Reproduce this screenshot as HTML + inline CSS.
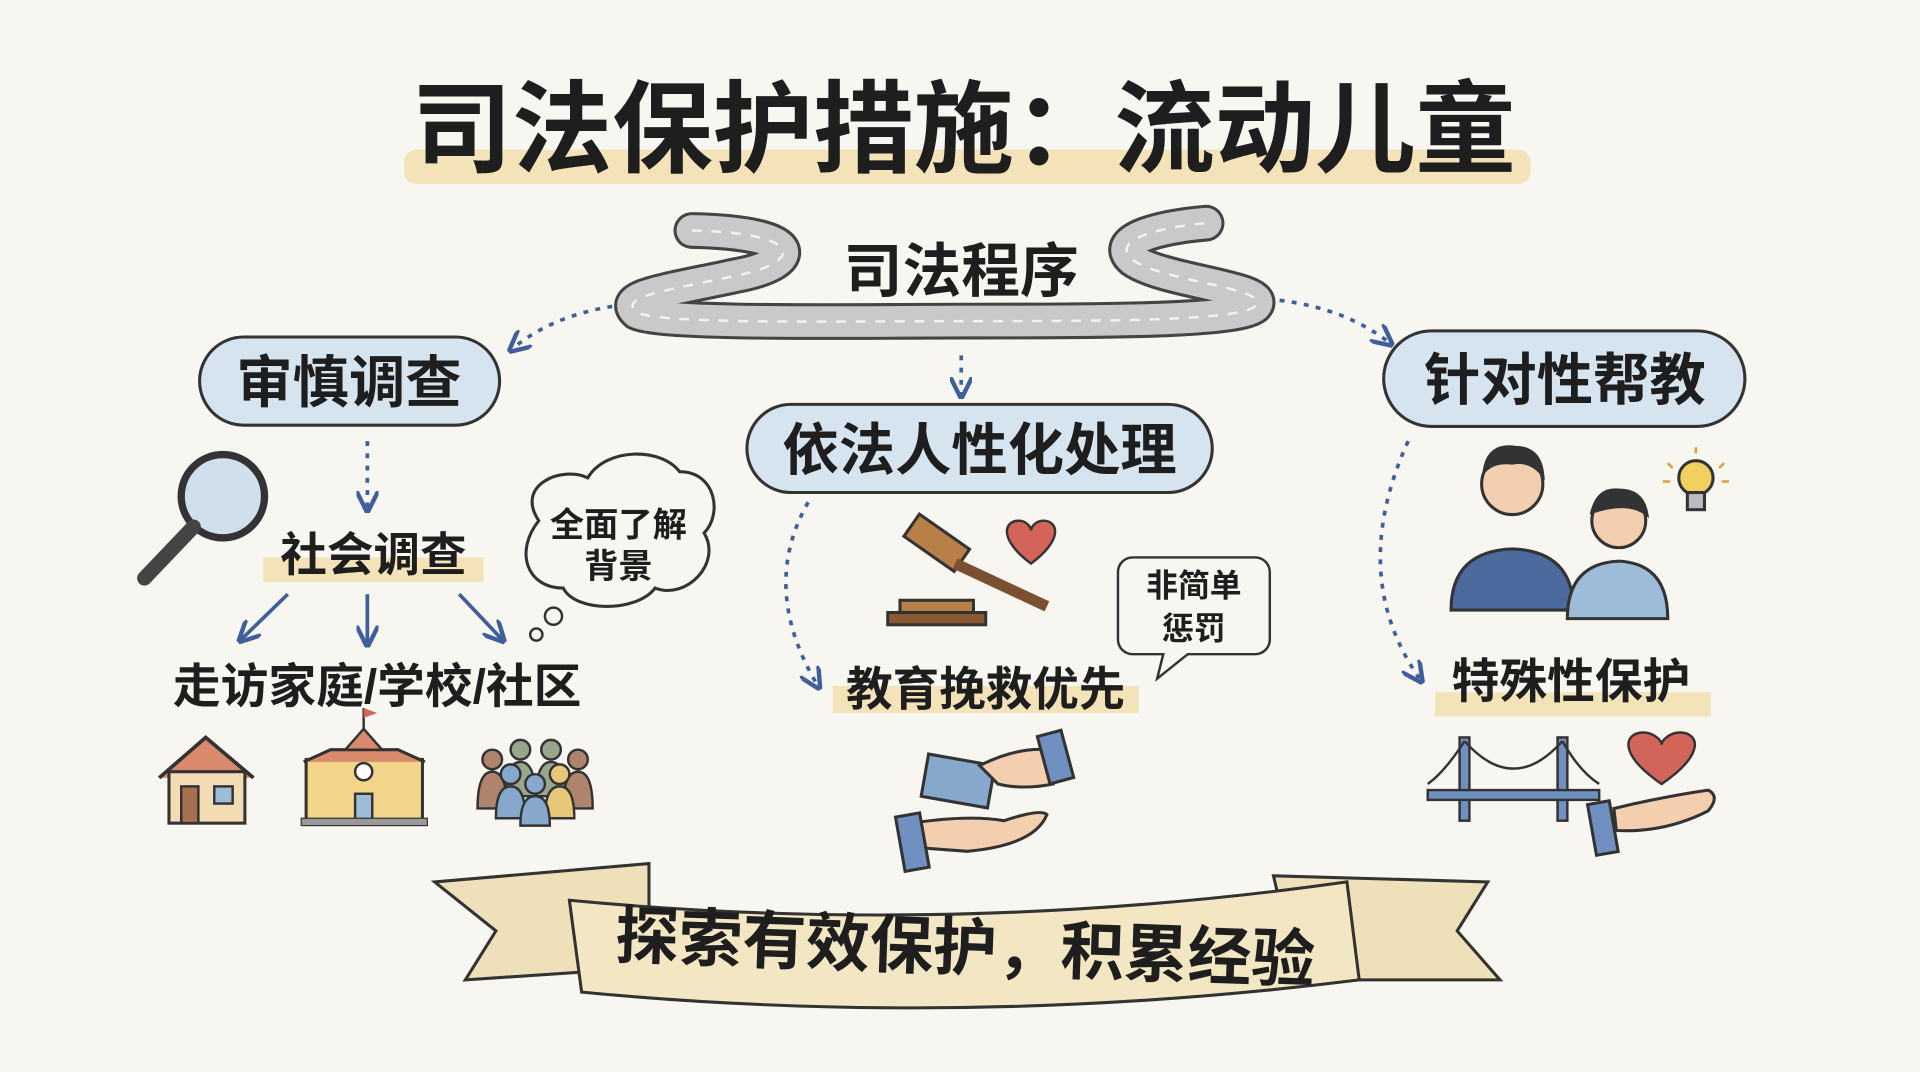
<!DOCTYPE html>
<html><head><meta charset="utf-8"><style>
html,body{margin:0;padding:0;background:#f7f6f0;}
svg{display:block}
text{font-family:"Liberation Sans","Noto Sans CJK SC","WenQuanYi Zen Hei",sans-serif;font-weight:bold;fill:#1e1e1e;text-anchor:middle}
</style></head><body>
<svg width="1920" height="1072" viewBox="0 0 1568 875" xmlns="http://www.w3.org/2000/svg">
<defs>
<marker id="ah" viewBox="0 0 10 10" refX="8" refY="5" markerWidth="6" markerHeight="6" orient="auto"><path d="M0,0 L10,5 L0,10" fill="none" stroke="#3f5f9a" stroke-width="2"/></marker>
</defs>
<rect width="1568" height="875" fill="#f7f6f0"/>
<!-- title -->
<rect x="330" y="122" width="920" height="28" rx="10" fill="#f2deaa" opacity="0.8"/>
<text x="787" y="134" font-size="82" font-weight="500">司法保护措施：流动儿童</text>
<!-- road -->
<path id="rd" d="M565,188 C660,190 655,215 600,225 C540,238 505,242 520,255 C540,265 700,262 790,262 C900,262 1010,262 1025,250 C1040,235 950,230 925,212 C905,195 950,185 985,182" fill="none" stroke="#444" stroke-width="30" stroke-linecap="round"/>
<path d="M565,188 C660,190 655,215 600,225 C540,238 505,242 520,255 C540,265 700,262 790,262 C900,262 1010,262 1025,250 C1040,235 950,230 925,212 C905,195 950,185 985,182" fill="none" stroke="#c9c9c9" stroke-width="25" stroke-linecap="round"/>
<path d="M565,188 C660,190 655,215 600,225 C540,238 505,242 520,255 C540,265 700,262 790,262 C900,262 1010,262 1025,250 C1040,235 950,230 925,212 C905,195 950,185 985,182" fill="none" stroke="#f2f2f2" stroke-width="2" stroke-dasharray="8 8"/>
<text x="785" y="238" font-size="48" font-weight="500">司法程序</text>
<!-- dotted arrows -->
<path d="M500,250 Q450,258 418,285" fill="none" stroke="#3f5f9a" stroke-width="3" stroke-dasharray="4 6" marker-end="url(#ah)"/>
<path d="M785,290 L785,322" fill="none" stroke="#3f5f9a" stroke-width="3" stroke-dasharray="4 6" marker-end="url(#ah)"/>
<path d="M1045,245 Q1100,252 1135,280" fill="none" stroke="#3f5f9a" stroke-width="3" stroke-dasharray="4 6" marker-end="url(#ah)"/>
<!-- bubbles -->
<rect x="163" y="275" width="245" height="72" rx="36" fill="#d6e4ef" stroke="#333" stroke-width="2.5"/>
<text x="285" y="328" font-size="46" font-weight="500">审慎调查</text>
<rect x="610" y="330" width="380" height="72" rx="36" fill="#d6e4ef" stroke="#333" stroke-width="2.5"/>
<text x="800" y="383" font-size="46" font-weight="500">依法人性化处理</text>
<rect x="1130" y="270" width="295" height="78" rx="39" fill="#d6e4ef" stroke="#333" stroke-width="2.5"/>
<text x="1278" y="326" font-size="46" font-weight="500">针对性帮教</text>
<!-- left branch -->
<circle cx="182" cy="405" r="34" fill="#cfe0ec" stroke="#333" stroke-width="6"/>
<line x1="158" y1="430" x2="118" y2="472" stroke="#444" stroke-width="12" stroke-linecap="round"/>
<path d="M300,360 L300,415" stroke="#3f5f9a" stroke-width="3" stroke-dasharray="4 6" marker-end="url(#ah)"/>
<rect x="215" y="455" width="180" height="20" fill="#f2deaa" opacity="0.8"/>
<text x="305" y="466" font-size="38" font-weight="500">社会调查</text>
<path d="M235,485 L197,522" stroke="#3f5f9a" stroke-width="3" marker-end="url(#ah)"/>
<path d="M300,485 L300,525" stroke="#3f5f9a" stroke-width="3" marker-end="url(#ah)"/>
<path d="M375,485 L410,522" stroke="#3f5f9a" stroke-width="3" marker-end="url(#ah)"/>
<path d="M440,425 C420,395 460,380 480,390 C495,365 540,365 555,385 C585,385 590,420 575,435 C590,460 560,490 535,480 C520,500 470,500 460,480 C430,480 420,450 440,425Z" fill="#f7f6f0" stroke="#333" stroke-width="2.5"/>
<circle cx="452" cy="503" r="7" fill="none" stroke="#333" stroke-width="2"/>
<circle cx="438" cy="518" r="5" fill="none" stroke="#333" stroke-width="2"/>
<text x="505" y="438" font-size="28" font-weight="normal">全面了解</text>
<text x="505" y="472" font-size="28" font-weight="normal">背景</text>
<text x="308" y="574" font-size="39" font-weight="normal">走访家庭/学校/社区</text>
<!-- house -->
<path d="M130,635 L168,602 L207,635" fill="#d98a6c" stroke="#333" stroke-width="3"/>
<rect x="138" y="630" width="62" height="42" fill="#f3dcb4" stroke="#333" stroke-width="2.5"/>
<rect x="148" y="642" width="14" height="30" fill="#a8704f" stroke="#333" stroke-width="2"/>
<rect x="175" y="642" width="15" height="14" fill="#9cbcd8" stroke="#333" stroke-width="2"/>
<!-- school -->
<rect x="250" y="620" width="95" height="50" fill="#f2d48a" stroke="#333" stroke-width="2.5"/>
<path d="M248,622 L270,612 L325,612 L347,622" fill="#d98a6c" stroke="#333" stroke-width="2.5"/>
<path d="M282,612 L297,595 L312,612Z" fill="#d98a6c" stroke="#333" stroke-width="2"/>
<circle cx="297" cy="630" r="7" fill="#fff" stroke="#333" stroke-width="2"/>
<rect x="290" y="648" width="14" height="22" fill="#9cbcd8" stroke="#333" stroke-width="2"/>
<rect x="246" y="668" width="103" height="6" fill="#999" stroke="#333"/>
<line x1="297" y1="595" x2="297" y2="578" stroke="#333" stroke-width="2"/><path d="M297,578 L308,582 L297,586Z" fill="#d2645a"/>
<!-- people -->
<g stroke="#333" stroke-width="2">
<circle cx="402" cy="620" r="8" fill="#b0846c"/><path d="M390,660 Q390,630 402,630 Q414,630 414,660Z" fill="#b0846c"/>
<circle cx="472" cy="620" r="8" fill="#b0846c"/><path d="M460,660 Q460,630 472,630 Q484,630 484,660Z" fill="#b0846c"/>
<circle cx="425" cy="612" r="8" fill="#9aa68c"/><path d="M413,650 Q413,622 425,622 Q437,622 437,650Z" fill="#9aa68c"/>
<circle cx="450" cy="612" r="8" fill="#9aa68c"/><path d="M438,650 Q438,622 450,622 Q462,622 462,650Z" fill="#9aa68c"/>
<circle cx="417" cy="632" r="8" fill="#86a8cc"/><path d="M405,668 Q405,642 417,642 Q429,642 429,668Z" fill="#86a8cc"/>
<circle cx="457" cy="632" r="8" fill="#e8c878"/><path d="M445,668 Q445,642 457,642 Q469,642 469,668Z" fill="#e8c878"/>
<circle cx="437" cy="640" r="8" fill="#86a8cc"/><path d="M425,674 Q425,650 437,650 Q449,650 449,674Z" fill="#86a8cc"/>
</g>
<!-- middle branch -->
<path d="M660,410 Q620,480 668,560" fill="none" stroke="#3f5f9a" stroke-width="3" stroke-dasharray="4 6" marker-end="url(#ah)"/>
<g stroke="#333" stroke-width="2.5">
<rect x="740" y="432" width="50" height="22" fill="#b88048" transform="rotate(35 765 443)"/>
<line x1="780" y1="460" x2="855" y2="495" stroke="#7a5030" stroke-width="9"/>
<rect x="735" y="490" width="60" height="12" fill="#b88048"/>
<rect x="725" y="500" width="80" height="10" fill="#8a5a34"/>
</g>
<path d="M842,460 C815,440 820,425 832,425 C838,425 842,430 842,433 C842,430 846,425 852,425 C864,425 869,440 842,460Z" fill="#d2645a" stroke="#333" stroke-width="2"/>
<path d="M925,455 h100 a12,12 0 0 1 12,12 v55 a12,12 0 0 1 -12,12 h-55 l-25,20 l5,-20 h-25 a12,12 0 0 1 -12,-12 v-55 a12,12 0 0 1 12,-12Z" fill="#f7f6f0" stroke="#333" stroke-width="2"/>
<text x="975" y="487" font-size="26" font-weight="normal">非简单</text>
<text x="975" y="522" font-size="26" font-weight="normal">惩罚</text>
<rect x="680" y="560" width="250" height="22" fill="#f2deaa" opacity="0.8"/>
<text x="805" y="576" font-size="38" font-weight="500">教育挽救优先</text>
<!-- book hands -->
<g stroke="#333" stroke-width="2.5">
<rect x="755" y="620" width="55" height="35" fill="#86a8cc" transform="rotate(10 782 637)"/>
<path d="M800,625 Q830,610 855,612 L860,640 Q835,645 815,640Z" fill="#f3cfb0"/>
<rect x="852" y="598" width="20" height="40" fill="#6f90c0" transform="rotate(-15 862 618)"/>
<path d="M745,672 Q790,665 820,670 Q850,660 855,665 Q845,690 790,695 L750,692Z" fill="#f3cfb0"/>
<rect x="735" y="665" width="20" height="45" fill="#6f90c0" transform="rotate(-10 745 687)"/>
</g>
<!-- right branch -->
<path d="M1150,360 Q1100,470 1160,555" fill="none" stroke="#3f5f9a" stroke-width="3" stroke-dasharray="4 6" marker-end="url(#ah)"/>
<g stroke="#333" stroke-width="2.5">
<path d="M1185,498 Q1185,450 1235,448 Q1285,450 1285,498Z" fill="#4d6a9e"/>
<circle cx="1235" cy="395" r="25" fill="#f3cfb0"/>
<path d="M1212,385 Q1215,362 1237,365 Q1258,365 1260,388 Q1250,375 1235,378 Q1220,376 1212,385Z" fill="#333"/>
<path d="M1280,505 Q1280,460 1322,458 Q1362,460 1362,505Z" fill="#9cbcd8"/>
<circle cx="1322" cy="425" r="22" fill="#f3cfb0"/>
<path d="M1300,418 Q1305,398 1322,400 Q1342,400 1345,420 Q1330,408 1300,418Z" fill="#333"/>
<circle cx="1385" cy="390" r="14" fill="#f2d060"/>
<rect x="1378" y="402" width="14" height="14" fill="#bbb"/>
</g>
<g stroke="#e0a030" stroke-width="2"><line x1="1385" y1="365" x2="1385" y2="370"/><line x1="1362" y1="378" x2="1366" y2="382"/><line x1="1408" y1="378" x2="1404" y2="382"/><line x1="1358" y1="393" x2="1364" y2="393"/><line x1="1412" y1="393" x2="1406" y2="393"/></g>
<rect x="1172" y="565" width="225" height="20" fill="#f2deaa" opacity="0.8"/>
<text x="1283" y="570" font-size="39" font-weight="500">特殊性保护</text>
<!-- bridge -->
<g stroke="#333" stroke-width="2">
<rect x="1192" y="602" width="8" height="68" fill="#6f90c0"/>
<rect x="1272" y="602" width="8" height="68" fill="#6f90c0"/>
<path d="M1196,605 Q1236,650 1276,605" fill="none"/>
<path d="M1166,640 Q1180,630 1196,605 M1276,605 Q1290,630 1306,640" fill="none"/>
<rect x="1166" y="645" width="140" height="8" fill="#6f90c0"/>
</g>
<path d="M1357,640 C1320,615 1327,598 1342,598 C1350,598 1357,604 1357,608 C1357,604 1364,598 1372,598 C1387,598 1394,615 1357,640Z" fill="#d2645a" stroke="#333" stroke-width="2"/>
<path d="M1318,660 Q1360,650 1395,645 Q1405,650 1395,662 Q1360,680 1320,678Z" fill="#f3cfb0" stroke="#333" stroke-width="2.5"/>
<rect x="1300" y="655" width="18" height="42" fill="#6f90c0" stroke="#333" stroke-width="2.5" transform="rotate(-10 1309 676)"/>
<!-- banner -->
<g stroke="#333" stroke-width="2.5">
<path d="M355,720 L530,705 L530,790 L380,800 L405,760Z" fill="#eee0b8"/>
<path d="M1040,715 L1215,720 L1190,760 L1225,800 L1060,800Z" fill="#eee0b8"/>
<path d="M465,735 Q780,765 1100,720 L1110,800 Q790,840 475,810Z" fill="#f3e6c2"/>
</g>
<text x="788" y="792" font-size="52" font-weight="500" transform="rotate(2 790 780)">探索有效保护，积累经验</text>
</svg>
</body></html>
